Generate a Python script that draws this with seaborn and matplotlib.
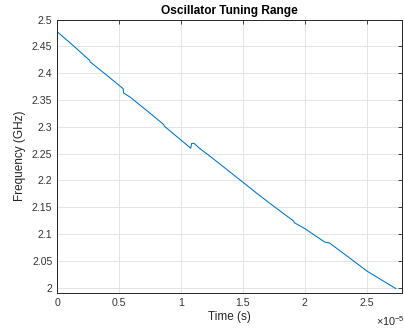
import numpy as np
import matplotlib
matplotlib.use("Agg")
import matplotlib.pyplot as plt
from matplotlib.ticker import FuncFormatter
import seaborn as sns

# Data (time in units of 1e-5 s, frequency in GHz)
time_e5 = [0.0, 0.13, 0.26, 0.265, 0.40, 0.532, 0.535, 0.59, 0.75, 0.86, 0.865,
           1.00, 1.078, 1.085, 1.105, 1.153, 1.234, 1.497, 1.60, 1.718, 1.793,
           1.91, 1.915, 2.00, 2.16, 2.20, 2.363, 2.50, 2.736]
freq_ghz = [2.477, 2.451, 2.424, 2.421, 2.396, 2.371, 2.363, 2.355, 2.325, 2.304, 2.301,
            2.275, 2.260, 2.269, 2.269, 2.259, 2.245, 2.197, 2.178, 2.157, 2.144,
            2.124, 2.121, 2.110, 2.085, 2.083, 2.055, 2.031, 1.998]
xtick_vals = [0, 0.5, 1, 1.5, 2, 2.5]
ytick_vals = [2.0, 2.05, 2.1, 2.15, 2.2, 2.25, 2.3, 2.35, 2.4, 2.45, 2.5]

time_s = np.array(time_e5) * 1e-5

sns.set_theme(style="whitegrid")
plt.rcParams["font.family"] = ["Liberation Sans", "DejaVu Sans"]
plt.rcParams["mathtext.fontset"] = "custom"
plt.rcParams["mathtext.rm"] = "Liberation Sans"

dark = "#262626"
W, H = 404, 330
fig = plt.figure(figsize=(W / 100, H / 100), dpi=100)
fig.patch.set_facecolor("white")
ax = fig.add_axes([57.3 / W, 1 - 292.7 / H, (402.3 - 57.3) / W, (292.7 - 19.5) / H])

sns.lineplot(x=time_s, y=freq_ghz, estimator=None, sort=False,
             color="#0072BD", linewidth=0.75, ax=ax)

ax.set_xlim(0, 2.787e-5)
ax.set_ylim(1.9905, 2.5)
ax.set_xticks(np.array(xtick_vals) * 1e-5)
ax.set_yticks(ytick_vals)
ax.xaxis.set_major_formatter(FuncFormatter(lambda v, p: f"{v * 1e5:g}"))
ax.yaxis.set_major_formatter(FuncFormatter(lambda v, p: f"{v:g}"))

ax.grid(True, color="#e4e4e4", linewidth=0.7)
for s in ax.spines.values():
    s.set_color(dark)
    s.set_linewidth(0.7)
    s.set_visible(True)
ax.tick_params(direction="in", top=True, right=True, length=3, width=0.6,
               color=dark, labelcolor="#333333", labelsize=7.6, pad=3.5)

ax.set_title("Oscillator Tuning Range", fontsize=8.6, fontweight="bold",
             color="black", pad=4.3)
ax.set_xlabel("Time (s)", fontsize=8.5, color=dark, labelpad=2.5)
ax.set_ylabel("Frequency (GHz)", fontsize=8.5, color=dark, labelpad=4)

fig.text(376 / W, 1 - 326 / H, r"$\times\mathregular{10^{-5}}$", fontsize=7.8,
         color=dark, ha="left", va="baseline")

fig.savefig("out.png", dpi=100)
